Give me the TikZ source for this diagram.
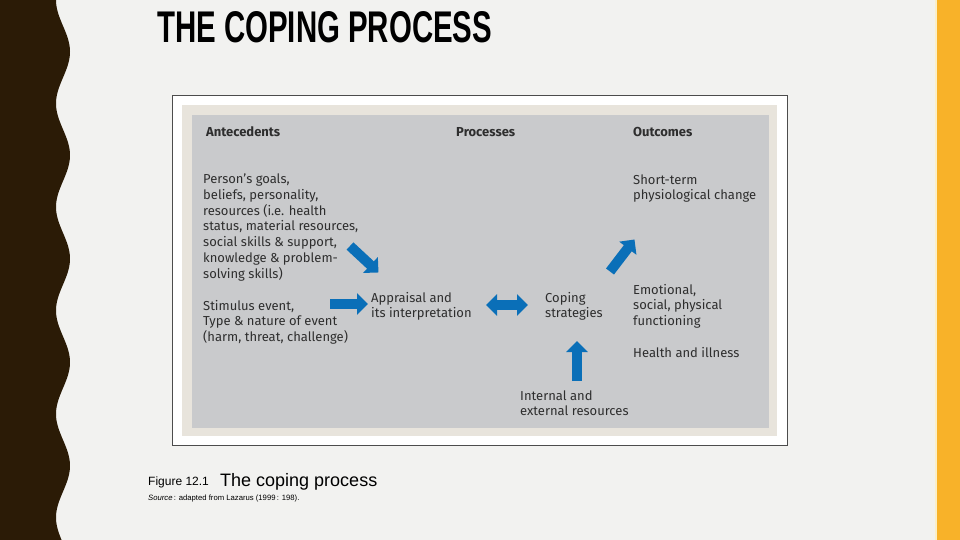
\documentclass[tikz,border=0pt]{standalone}
\usepackage{fontspec}
\usepackage{graphicx}
\setmainfont{Fira Sans}
\newfontfamily\arialfont{Liberation Sans}
\usetikzlibrary{arrows.meta}
\definecolor{bgcol}{HTML}{F2F2F0}
\definecolor{brown}{HTML}{2B1B06}
\definecolor{gold}{HTML}{F8B229}
\definecolor{paleg}{HTML}{FBEFC8}
\definecolor{beige}{HTML}{E8E4DC}
\definecolor{panel}{HTML}{C9CACC}
\definecolor{txtc}{HTML}{2E2E2E}
\definecolor{arrowblue}{HTML}{0A6FB8}
\tikzset{
  txt/.style={font=\fontsize{13}{15.7}\selectfont, text=txtc, align=left, anchor=base west, inner sep=0pt},
  head/.style={txt, font=\fontsize{13}{15.7}\selectfont\bfseries},
  blockarrow/.style={draw=arrowblue, line width=10pt, -{Triangle[width=21pt,length=11pt]}},
  dblarrow/.style={draw=arrowblue, line width=10pt, {Triangle[width=21pt,length=11pt]}-{Triangle[width=21pt,length=11pt]}}
}
\begin{document}
\begin{tikzpicture}[x=1pt,y=-1pt]
\useasboundingbox (0,0) rectangle (960,540);
\fill[bgcol] (0,0) rectangle (960,540);
% wavy left band
\fill[brown] (0,0) -- plot[domain=0:540, samples=240, variable=\t] ({63-7*cos(3.4783*\t)}, \t) -- (0,540) -- cycle;
% right gold bar
\fill[paleg] (934.5,0) rectangle (937,540);
\fill[gold] (937,0) rectangle (960,540);
% title
\node[anchor=south west, inner sep=0pt, text=black] (title) at (157,43.5)
  {\resizebox{335pt}{31pt}{\arialfont\bfseries THE COPING PROCESS}};
% figure frame
\draw[fill=white, draw=black!70, line width=0.8pt] (172,95) rectangle (787,445);
\fill[beige] (182,105) rectangle (777,436);
\fill[panel] (192,115) rectangle (769,428);
% headers
\node[head] (hant) at (206,136.5) {Antecedents};
\node[head] (hproc) at (456,136.5) {Processes};
\node[head] (hout) at (633,136.5) {Outcomes};
% antecedents (anchor = baseline of last line)
\node[txt] (person) at (203,278) {Person’s goals,\\beliefs, personality,\\resources (i.e. health\\status, material resources,\\social skills \& support,\\knowledge \& problem-\\solving skills)};
\node[txt] (stim) at (203,341.5) {Stimulus event,\\Type \& nature of event\\(harm, threat, challenge)};
% processes
\node[txt] (appr) at (371,317.7) {Appraisal and\\its interpretation};
\node[txt] (coping) at (545,317.7) {Coping\\strategies};
\node[txt] (intern) at (520,415.7) {Internal and\\external resources};
% outcomes
\node[txt] (short) at (633,199.7) {Short-term\\physiological change};
\node[txt] (emot) at (633,325.4) {Emotional,\\social, physical\\functioning};
\node[txt] (health) at (633,357) {Health and illness};
% arrows
\coordinate (a1s) at (350,246);
\coordinate (a1e) at (378.5,272.5);
\coordinate (a2s) at (330,304);
\coordinate (a2e) at (368,304);
\coordinate (a3s) at (486,305);
\coordinate (a3e) at (528,305);
\coordinate (a4s) at (577,381);
\coordinate (a4e) at (577,341);
\coordinate (a5s) at (610,271.5);
\coordinate (a5e) at (634.5,239.5);
\draw[blockarrow] (a1s) -- (a1e);
\draw[blockarrow] (a2s) -- (a2e);
\draw[dblarrow] (a3s) -- (a3e);
\draw[blockarrow] (a4s) -- (a4e);
\draw[blockarrow] (a5s) -- (a5e);
% caption
\node[anchor=base west, inner sep=0pt, font=\arialfont\fontsize{12}{14}\selectfont, text=black] (fig) at (148,485) {Figure 12.1};
\node[anchor=base west, inner sep=0pt, font=\arialfont\fontsize{18}{20}\selectfont, text=black] (cap) at (220,486) {The coping process};
\node[anchor=base west, inner sep=0pt, font=\arialfont\fontsize{7.7}{9}\selectfont, text=black] (src) at (148,500) {\textit{Source}\,: adapted from Lazarus (1999\,: 198).};
\end{tikzpicture}
\end{document}
